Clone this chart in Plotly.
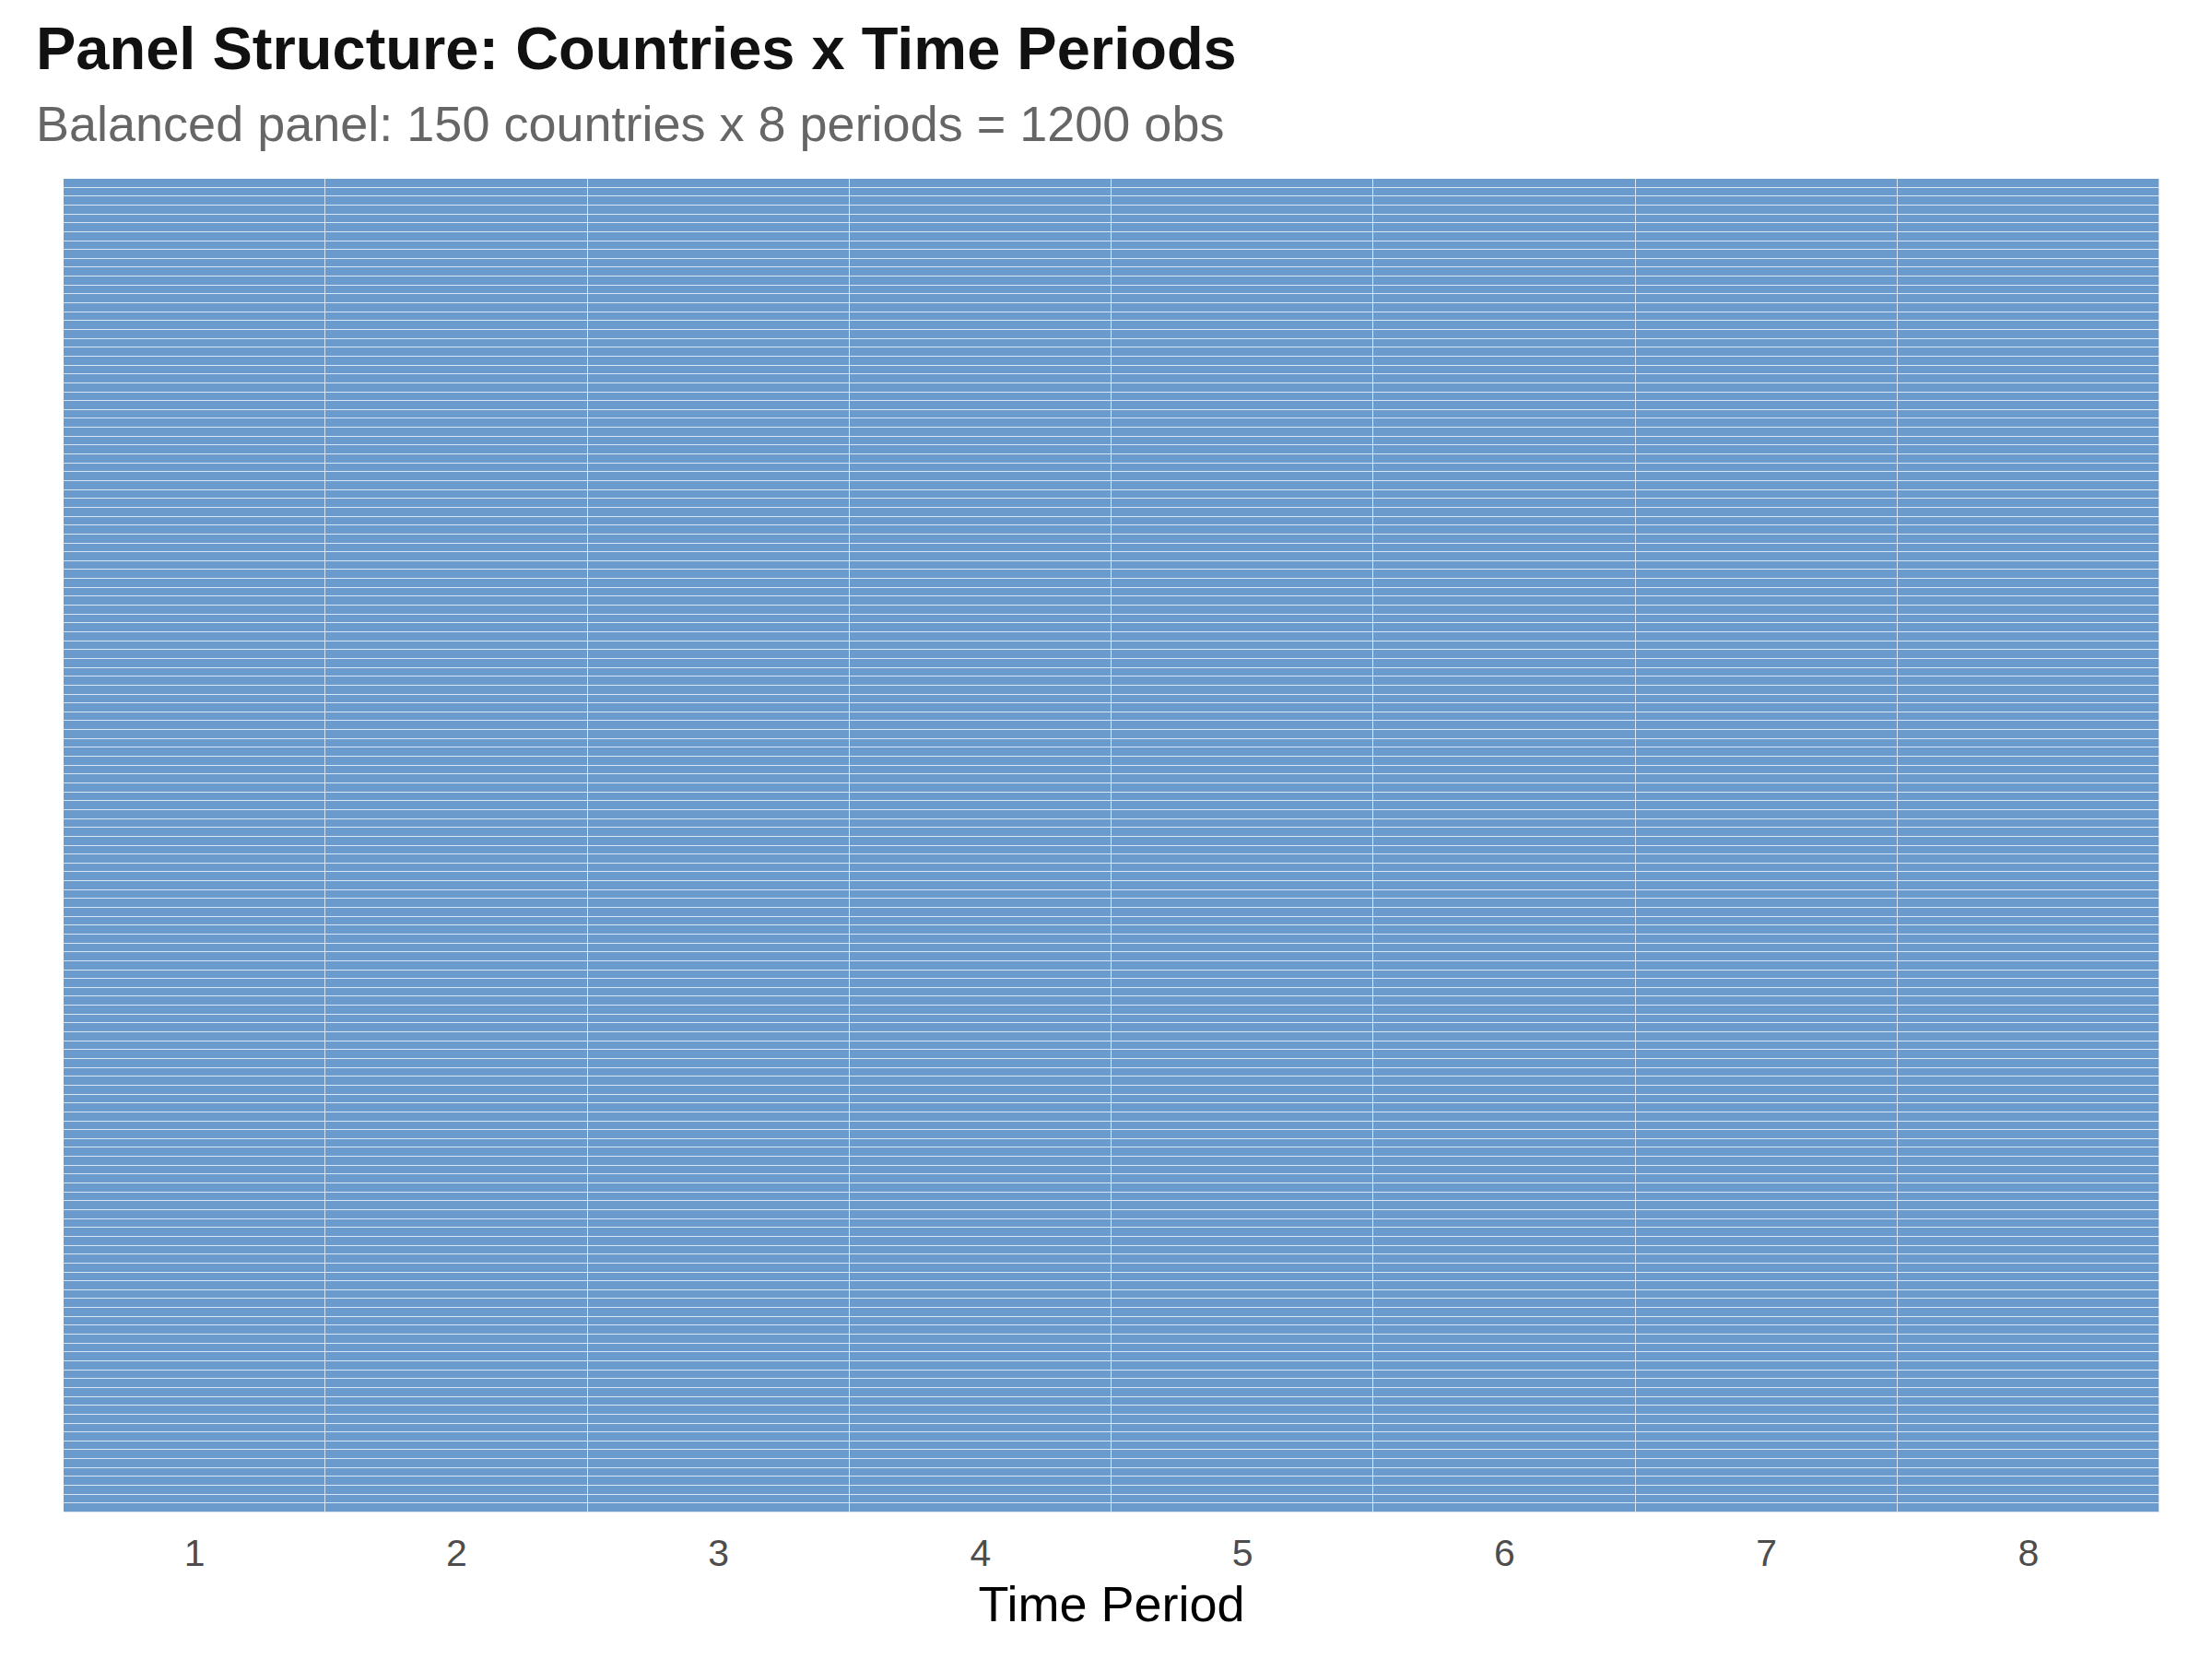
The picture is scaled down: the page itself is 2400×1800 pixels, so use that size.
import plotly.graph_objects as go

# Data: balanced panel, every country observed in every period
countries = [f"Country {i}" for i in range(1, 151)]
periods = [1, 2, 3, 4, 5, 6, 7, 8]
observed = [[1 for _ in periods] for _ in countries]

title_text = "Panel Structure: Countries x Time Periods"
subtitle_text = "Balanced panel: 150 countries x 8 periods = 1200 obs"
x_title = "Time Period"

W, H = 2400, 1800
OFF = 8  # page body offset of the figure
L, R, T, B = 69 - OFF, 57 + OFF, 194 - OFF, 159 + OFF
plot_h = H - T - B

def ypaper(px):
    # px is the target page pixel
    return (H - B - (px - OFF)) / plot_h

def xpaper(px):
    return ((px - OFF) - L) / (W - L - R)

tile = "rgb(106,155,204)"

fig = go.Figure(go.Heatmap(
    x=periods,
    y=list(range(len(countries))),
    z=observed,
    text=[[c] * len(periods) for c in countries],
    colorscale=[[0, tile], [1, tile]],
    showscale=False,
    xgap=1,
    ygap=1,
    hovertemplate="%{text}<br>Period %{x}<extra></extra>",
))

fig.update_layout(
    width=W, height=H,
    margin=dict(l=L, r=R, t=T, b=B),
    paper_bgcolor="white",
    plot_bgcolor="#d6e4f3",
    font=dict(family="Liberation Sans, Arial, sans-serif"),
    xaxis=dict(
        range=[0.5, 8.5],
        tickvals=periods,
        ticktext=[str(p) for p in periods],
        tickfont=dict(size=41, color="#4d4d4d"),
        ticklabelstandoff=16,
        showgrid=False, zeroline=False, ticks="",
        title=dict(text=x_title, font=dict(size=54, color="black"), standoff=14),
    ),
    yaxis=dict(
        range=[-0.5, len(countries) - 0.5],
        showticklabels=False, showgrid=False, zeroline=False, ticks="",
    ),
    annotations=[
        dict(text=f"<b>{title_text}</b>", xref="paper", yref="paper",
             x=xpaper(37), y=ypaper(52), xanchor="left", yanchor="middle",
             showarrow=False, font=dict(size=65, color="#111111")),
        dict(text=subtitle_text, xref="paper", yref="paper",
             x=xpaper(37), y=ypaper(134), xanchor="left", yanchor="middle",
             showarrow=False, font=dict(size=54, color="#666666")),
    ],
)

fig.write_html("out.html")
